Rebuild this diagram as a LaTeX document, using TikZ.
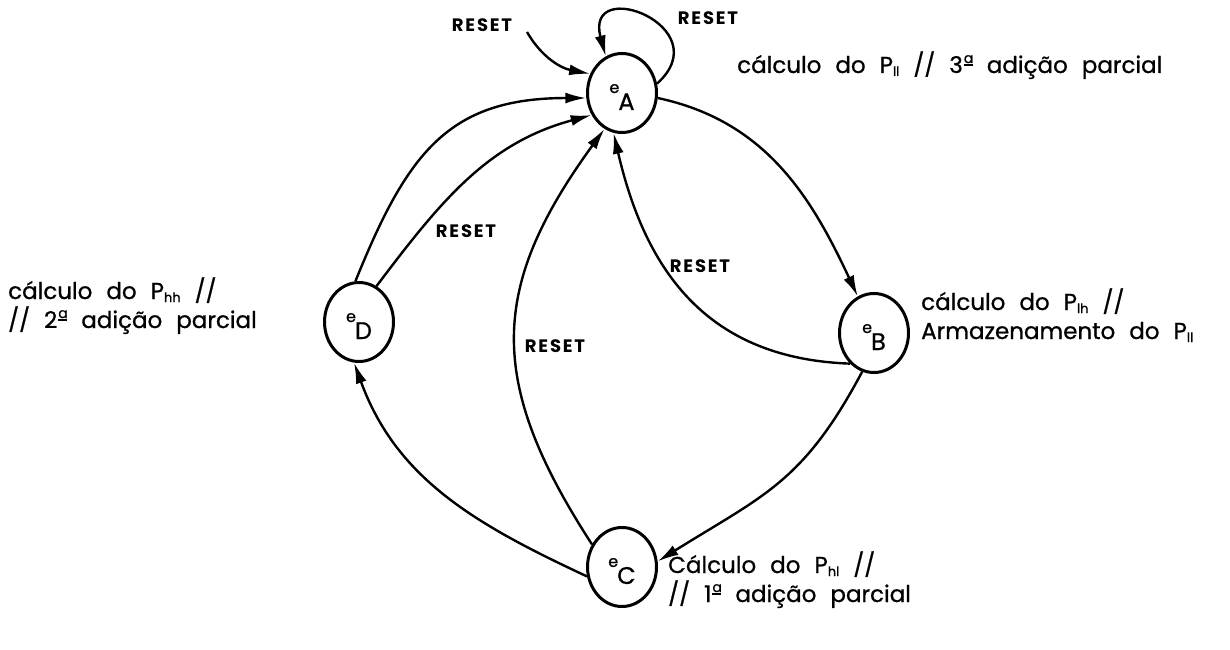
\documentclass[tikz,border=0pt]{standalone}
\usepackage{fontspec}
\setmainfont{Poppins}[FakeBold=0.8]
\newfontfamily\lblfont{Poppins}[LetterSpace=10]
\usetikzlibrary{arrows.meta,shapes.geometric}

\newcommand{\stname}[1]{\rule{0pt}{23pt}\raisebox{6pt}{\fontsize{16}{16}\selectfont e}\kern-1pt\raisebox{-11pt}{#1}}
\newcommand{\idx}[1]{\raisebox{-3pt}{\fontsize{13}{13}\selectfont #1}}
\newcommand{\ord}{\kern1pt\raisebox{7pt}{\rlap{\raisebox{3pt}{\fontsize{14}{14}\selectfont a}}\rule{9pt}{1.8pt}}}
\newcommand{\descfont}{\fontsize{23}{29}\selectfont\spaceskip 14pt plus 3pt\relax}

\begin{document}
\begin{tikzpicture}[x=1pt,y=1pt,
    state/.style={draw,ellipse,line width=3pt,minimum width=69pt,minimum height=79pt,inner sep=0pt,font=\fontsize{24}{24}\selectfont},
    lbl/.style={font=\lblfont\fontsize{18}{18}\selectfont\bfseries,inner sep=0pt},
    desc/.style={align=left,anchor=base west,inner sep=0pt,font=\descfont},
    trans/.style={line width=2.4pt,-{Latex[length=21pt,width=11pt]}}]
  \useasboundingbox (0,0) rectangle (1230,649);

  \node[state] (eA) at (622,556) {\stname{A}};
  \node[state] (eB) at (874,316) {\stname{B}};
  \node[state] (eC) at (622,82) {\stname{C}};
  \node[state] (eD) at (359,327) {\stname{D}};

  \node[desc] (dA) at (737,576) {cálculo do P\idx{ll} // 3\ord\ adição parcial};
  \node[desc] (dD) at (8,321) {cálculo do P\idx{hh} //\\// 2\ord\ adição parcial};
  \node[desc] (dB) at (921,310) {cálculo do P\idx{lh} //\\Armazenamento do P\idx{ll}};
  \node[desc] (dC) at (668,47) {Cálculo do P\idx{hl} //\\// 1\ord\ adição parcial};

  \node[lbl] (rIn) at (482,624) {RESET};
  \node[lbl] (rLoop) at (708,631) {RESET};
  \node[lbl] (rD) at (466,418) {RESET};
  \node[lbl] (rC) at (555,303) {RESET};
  \node[lbl] (rB) at (700,383) {RESET};
  \coordinate (src) at (527,617);

  \draw[trans] (eA.-8) to[out=-12,in=115] (eB.114);
  \draw[trans] (eB.-107) to[out=-118,in=32,looseness=1.15] (eC.9);
  \draw[trans] (eC.-165) to[out=155,in=-70] (eD.-97);
  \draw[trans] (eD.95) to[out=68,in=180,looseness=1.2] (eA.188);
  \draw[trans] (eD.64) to[out=53,in=195] (eA.216);
  \draw[trans] (eC.143) to[out=123,in=234,looseness=1.2] (eA.244);
  \draw[trans] (eB.-128) to[out=178,in=-77,looseness=1.1] (eA.258);
  \draw[trans] (eA.15) .. controls +(42:85) and +(105:85) .. (eA.114);
  \draw[trans] (src) to[out=-60,in=169] (eA.149);
\end{tikzpicture}
\end{document}
